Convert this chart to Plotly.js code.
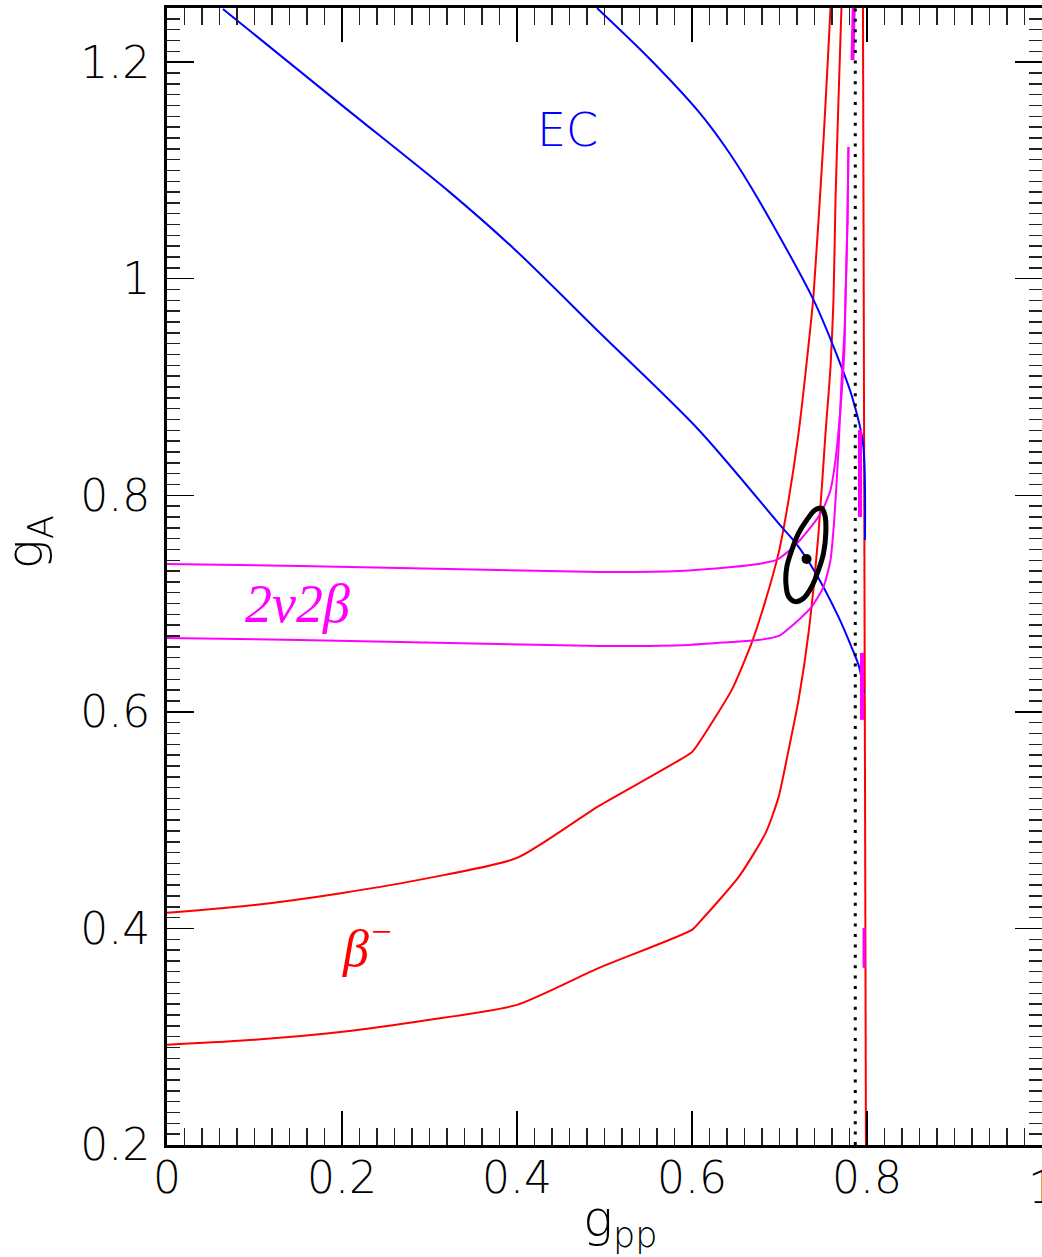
<!DOCTYPE html>
<html>
<head>
<meta charset="utf-8">
<script src="https://cdn.plot.ly/plotly-3.0.1.min.js"></script>
<style>html,body{margin:0;padding:0;background:#fff;}#plot{width:1042px;height:1257px;}</style>
</head>
<body>
<div id="plot"></div>
<script>
// beta- contours
const red1X = [0, 0.1003, 0.2007, 0.2999, 0.4, 0.4937, 0.6, 0.6078, 0.6454, 0.6682, 0.6842, 0.6990, 0.7104, 0.7218, 0.7332, 0.7389, 0.7503, 0.7548, 0.7583];
const red1Y = [0.4144, 0.4217, 0.4328, 0.4467, 0.4651, 0.5132, 0.5630, 0.5713, 0.6203, 0.6637, 0.7034, 0.7468, 0.7957, 0.8576, 0.9388, 0.9850, 1.1281, 1.1955, 1.25];
const red2X = [0, 0.1003, 0.2007, 0.2999, 0.4, 0.4937, 0.6, 0.6078, 0.6534, 0.6842, 0.6990, 0.7104, 0.7218, 0.7332, 0.7446, 0.7526, 0.7583, 0.7617, 0.7640, 0.7674, 0.7708];
const red2Y = [0.2925, 0.2971, 0.3045, 0.3156, 0.3294, 0.3636, 0.3987, 0.4051, 0.4476, 0.4882, 0.5215, 0.5649, 0.6110, 0.6729, 0.7652, 0.8576, 0.9185, 0.9804, 1.0727, 1.1651, 1.25];
const red3X = [0.7954, 0.7988];
const red3Y = [1.25, 0.2];
// EC contours
const blue1X = [0.0639, 0.2007, 0.3227, 0.3968, 0.4937, 0.6078, 0.7024, 0.7184, 0.7412, 0.7674, 0.7822, 0.7910, 0.7966];
const blue1Y = [1.2491, 1.1596, 1.0802, 1.0275, 0.9508, 0.8603, 0.7708, 0.7560, 0.7283, 0.6877, 0.6600, 0.6415, 0.6175];
const blue2X = [0.4914, 0.5507, 0.6078, 0.6420, 0.6762, 0.7389, 0.7708, 0.7830, 0.7954, 0.7977];
const blue2Y = [1.25, 1.2038, 1.1540, 1.1170, 1.0727, 0.9804, 0.9185, 0.8908, 0.8483, 0.7588];
// 2nu2beta contours
const mag1X = [0, 0.1517, 0.3227, 0.4937, 0.5850, 0.6454, 0.6762, 0.6967, 0.7161, 0.7332, 0.7480, 0.7583, 0.7640, 0.7686, 0.7719, 0.7742, 0.7754, 0.7777, 0.7788];
const mag1Y = [0.7366, 0.7348, 0.7320, 0.7292, 0.7301, 0.7338, 0.7366, 0.7403, 0.7523, 0.7680, 0.7846, 0.8049, 0.8326, 0.8696, 0.9037, 0.9342, 0.9804, 1.0542, 1.1217];
const mag2X = [0, 0.1517, 0.3227, 0.4937, 0.5964, 0.6454, 0.6762, 0.6990, 0.7218, 0.7366, 0.7503, 0.7583, 0.7628, 0.7674, 0.7708, 0.7742, 0.7754, 0.7777, 0.7788];
const mag2Y = [0.6683, 0.6664, 0.6637, 0.6609, 0.6618, 0.6646, 0.6664, 0.6701, 0.6849, 0.6969, 0.7154, 0.7403, 0.7800, 0.8419, 0.9037, 0.9499, 0.9804, 1.0542, 1.1217];
const magTopX = [0.7848, 0.7834];
const magTopY = [1.25, 1.202];
const magAX = [0.7920, 0.7920];
const magAY = [0.8603, 0.7800];
const magBX = [0.7943, 0.7943];
const magBY = [0.6544, 0.5926];
const magCX = [0.7966, 0.7966];
const magCY = [0.4005, 0.3636];
// dotted limit
const dotX = [0.7866, 0.7866];
const dotY = [0.2, 1.25];
// best-fit ellipse and point
const ellX = [0.7483, 0.7522, 0.7529, 0.7503, 0.7446, 0.7369, 0.7275, 0.7180, 0.7104, 0.7073, 0.7084, 0.7141, 0.7218, 0.7312, 0.7408, 0.7483];
const ellY = [0.7880, 0.7803, 0.7650, 0.7465, 0.7311, 0.7157, 0.7049, 0.7018, 0.7064, 0.7188, 0.7341, 0.7495, 0.7650, 0.7772, 0.7865, 0.7880];
const bestX = [0.7309];
const bestY = [0.7412];
// tick labels
const xTickVals = [0, 0.2, 0.4, 0.6, 0.8];
const xTickText = ['0', '0.2', '0.4', '0.6', '0.8'];
const yTickVals = [0.2, 0.4, 0.6, 0.8, 1.0, 1.2];
const yTickText = ['0.2', '0.4', '0.6', '0.8', '1', '1.2'];

const RED = '#ff0000', BLUE = '#0000ff', MAG = '#ff00ff';
function ln(x, y, color, width, smooth) {
  const line = {color: color, width: width};
  if (smooth) { line.shape = 'spline'; line.smoothing = smooth; }
  return {x: x, y: y, type: 'scatter', mode: 'lines', hoverinfo: 'skip', line: line};
}
const traces = [
  ln(red1X, red1Y, RED, 2, 0.6),
  ln(red2X, red2Y, RED, 2, 0.6),
  ln(red3X, red3Y, RED, 2),
  ln(blue1X, blue1Y, BLUE, 2, 0.8),
  ln(blue2X, blue2Y, BLUE, 2, 0.8),
  ln(mag1X, mag1Y, MAG, 2, 0.6),
  ln(mag2X, mag2Y, MAG, 2, 0.6),
  ln(magTopX, magTopY, MAG, 4),
  ln(magAX, magAY, MAG, 4),
  ln(magBX, magBY, MAG, 4),
  ln(magCX, magCY, MAG, 3),
  {x: dotX, y: dotY, type: 'scatter', mode: 'lines', hoverinfo: 'skip', line: {color: '#000', width: 3, dash: '3px,7.4px'}},
  {x: ellX, y: ellY, type: 'scatter', mode: 'lines', hoverinfo: 'skip', line: {color: '#000', width: 5, shape: 'spline'}},
  {x: bestX, y: bestY, type: 'scatter', mode: 'markers', hoverinfo: 'skip', marker: {color: '#000', size: 10}}
];

const FONT = 'DejaVu Sans, Liberation Sans, Arial, sans-serif';
const tickFont = {family: FONT, size: 44, color: '#000', weight: 200};
const layout = {
  width: 1042, height: 1257,
  margin: {l: 167, r: 0, t: 8, b: 112, pad: 0},
  paper_bgcolor: '#fff', plot_bgcolor: '#fff',
  showlegend: false,
  xaxis: {
    range: [0, 1], tickmode: 'array', tickvals: xTickVals, ticktext: xTickText,
    showgrid: false, zeroline: false,
    showline: true, linecolor: '#000', linewidth: 3, mirror: 'ticks',
    ticks: 'inside', ticklen: 34, tickwidth: 1.5, tickcolor: '#000',
    minor: {dtick: 0.02, tick0: 0, ticks: 'inside', ticklen: 17, tickwidth: 1.5, tickcolor: '#222', showgrid: false},
    tickfont: tickFont, ticklabelstandoff: -8
  },
  yaxis: {
    range: [0.2, 1.25], tickmode: 'array', tickvals: yTickVals, ticktext: yTickText,
    showgrid: false, zeroline: false,
    showline: true, linecolor: '#000', linewidth: 3, mirror: 'ticks',
    ticks: 'inside', ticklen: 27, tickwidth: 1.5, tickcolor: '#000',
    minor: {dtick: 0.01, tick0: 0.2, ticks: 'inside', ticklen: 13, tickwidth: 1.5, tickcolor: '#222', showgrid: false},
    tickfont: tickFont, ticklabelstandoff: 5
  },
  annotations: [
    {text: '1', xref: 'paper', yref: 'paper', x: 1, y: -0.0132, showarrow: false,
     xanchor: 'center', yanchor: 'top', font: tickFont},
    {text: 'g<sub>A</sub>', xref: 'paper', yref: 'paper', x: -0.158, y: 0.53, textangle: -90,
     showarrow: false, xanchor: 'center', yanchor: 'middle',
     font: {family: FONT, size: 50, color: '#000', weight: 200}},
    {text: 'g<sub>pp</sub>', xref: 'paper', yref: 'paper', x: 0.518, y: -0.068,
     showarrow: false, xanchor: 'center', yanchor: 'middle',
     font: {family: FONT, size: 50, color: '#000', weight: 200}},
    {text: 'EC', xref: 'x', yref: 'y', x: 0.458, y: 1.137, showarrow: false,
     xanchor: 'center', yanchor: 'middle',
     font: {family: FONT, size: 46, color: BLUE, weight: 200}},
    {text: '2ν2β', xref: 'x', yref: 'y', x: 0.149, y: 0.700, showarrow: false,
     xanchor: 'center', yanchor: 'middle',
     font: {family: 'Liberation Serif, Times New Roman, serif', size: 54, color: MAG, style: 'italic'}},
    {text: 'β<sup>−</sup>', xref: 'x', yref: 'y', x: 0.198, y: 0.385, showarrow: false,
     xanchor: 'left', yanchor: 'middle',
     font: {family: 'Liberation Serif, Times New Roman, serif', size: 52, color: RED, style: 'italic'}}
  ]
};
Plotly.newPlot('plot', traces, layout, {staticPlot: true, displayModeBar: false});
</script>
</body>
</html>
